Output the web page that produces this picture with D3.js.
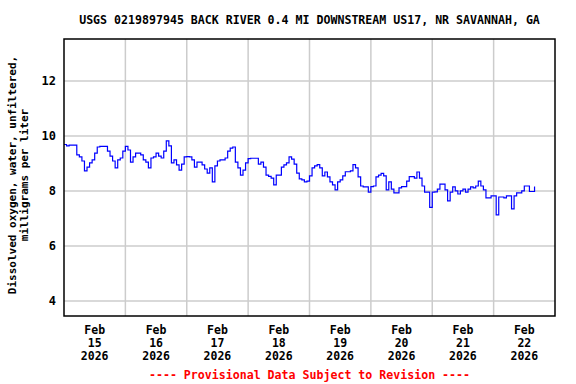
<html>
<head>
<meta charset="utf-8">
<title>USGS 0219897945 dissolved oxygen</title>
<style>
  body { margin: 0; background: #fff; }
  text { font-family: "DejaVu Sans Mono", "Liberation Mono", monospace; font-weight: bold; }
</style>
</head>
<body>
<script src="https://cdn.jsdelivr.net/npm/d3@7"></script>
<script>
// chart text
var titleText = "USGS 0219897945 BACK RIVER 0.4 MI DOWNSTREAM US17, NR SAVANNAH, GA";
var yLabelLines = ["Dissolved oxygen, water, unfiltered,", "milligrams per liter"];
var footerText = "---- Provisional Data Subject to Revision ----";

// axis
var yTicks = [4, 6, 8, 10, 12];
var yDomain = [3.45, 13.53];
var dayLabels = ["15", "16", "17", "18", "19", "20", "21", "22"];
var monthLabel = "Feb";
var yearLabel = "2026";
var startTime = "2026-02-15T00:00:00Z";
var endTime = "2026-02-23T00:00:00Z";

// hourly dissolved oxygen (mg/L), starting Feb 15 00:00
var feb15 = [9.69, 9.64, 9.67, 9.67, 9.67, 9.31, 9.24, 9.09, 8.73, 8.87, 9.02, 9.13,
             9.38, 9.60, 9.62, 9.62, 9.62, 9.45, 9.27, 9.09, 8.84, 9.13, 9.20, 9.45];
var feb16 = [9.62, 9.49, 9.05, 9.24, 9.38, 9.38, 9.31, 9.13, 9.05, 8.84, 9.20, 9.24,
             9.38, 9.27, 9.20, 9.45, 9.82, 9.64, 9.02, 9.13, 8.95, 8.76, 8.98, 9.24];
var feb17 = [9.25, 9.24, 9.13, 8.87, 9.05, 9.05, 8.95, 8.80, 8.65, 8.84, 8.33, 8.91,
             9.09, 9.13, 9.13, 9.20, 9.45, 9.56, 9.60, 9.05, 8.84, 8.58, 8.76, 9.02];
var feb18 = [9.18, 9.19, 9.19, 9.19, 8.98, 9.05, 8.87, 8.58, 8.53, 8.47, 8.22, 8.58,
             8.58, 8.87, 8.95, 9.02, 9.24, 9.16, 8.98, 8.65, 8.44, 8.40, 8.33, 8.36];
var feb19 = [8.55, 8.84, 8.91, 8.96, 8.84, 8.55, 8.69, 8.51, 8.33, 8.22, 8.04, 8.33,
             8.40, 8.55, 8.70, 8.70, 8.73, 8.96, 8.84, 8.51, 8.18, 8.15, 8.15, 7.96];
var feb20 = [8.16, 8.18, 8.51, 8.58, 8.64, 8.55, 8.04, 8.33, 8.07, 7.93, 7.93, 8.11,
             8.16, 8.16, 8.36, 8.52, 8.52, 8.47, 8.69, 8.47, 8.18, 7.96, 7.96, 7.40];
var feb21 = [7.96, 7.97, 8.07, 8.25, 8.25, 8.04, 7.64, 7.96, 8.15, 8.00, 7.89, 8.00,
             8.07, 7.96, 8.07, 8.15, 8.11, 8.18, 8.36, 8.18, 8.04, 7.75, 7.75, 7.82];
var feb22 = [7.82, 7.13, 7.78, 7.78, 7.75, 7.82, 7.82, 7.35, 7.82, 7.93, 7.93, 8.00,
             8.18, 8.18, 7.98, 7.98, 8.16];

var values = [].concat(feb15, feb16, feb17, feb18, feb19, feb20, feb21, feb22);
var t0 = new Date(startTime);
var data = values.map(function(v, i) {
  return { t: d3.utcHour.offset(t0, i), v: v };
});

var width = 576, height = 384;
var plotLeft = 64, plotRight = 555, plotTop = 39, plotBottom = 316;

var svg = d3.select("body").append("svg")
    .attr("width", width)
    .attr("height", height);

var x = d3.scaleUtc()
    .domain([new Date(startTime), new Date(endTime)])
    .range([plotLeft, plotRight]);
var y = d3.scaleLinear()
    .domain(yDomain)
    .range([plotBottom, plotTop]);

// grid
var days = d3.utcDay.range(new Date(startTime), new Date(endTime));
svg.append("g").selectAll("line")
    .data(days.slice(1))
    .enter().append("line")
    .attr("x1", function(d) { return x(d); })
    .attr("x2", function(d) { return x(d); })
    .attr("y1", plotTop).attr("y2", plotBottom)
    .attr("stroke", "#cccccc").attr("stroke-width", 1.5);
svg.append("g").selectAll("line")
    .data(yTicks)
    .enter().append("line")
    .attr("x1", plotLeft).attr("x2", plotRight)
    .attr("y1", function(d) { return y(d); })
    .attr("y2", function(d) { return y(d); })
    .attr("stroke", "#cccccc").attr("stroke-width", 1.5);

// data line, drawn stepwise like the gauge plot
var line = d3.line()
    .curve(d3.curveStepAfter)
    .x(function(d) { return x(d.t); })
    .y(function(d) { return y(d.v); });
svg.append("path")
    .datum(data)
    .attr("d", line)
    .attr("fill", "none")
    .attr("stroke", "#0000ff")
    .attr("stroke-width", 1.2);

// frame
svg.append("rect")
    .attr("x", plotLeft).attr("y", plotTop)
    .attr("width", plotRight - plotLeft).attr("height", plotBottom - plotTop)
    .attr("fill", "none").attr("stroke", "#000").attr("stroke-width", 1.5);

// y tick labels
svg.append("g").selectAll("text")
    .data(yTicks)
    .enter().append("text")
    .attr("x", 56)
    .attr("y", function(d) { return y(d) + 4; })
    .attr("text-anchor", "end")
    .attr("font-size", 12)
    .text(function(d) { return d; });

// x tick labels (centred at midday)
var xl = svg.append("g").selectAll("text")
    .data(days)
    .enter().append("text")
    .attr("text-anchor", "middle")
    .attr("font-size", 11.5)
    .attr("transform", function(d) { return "translate(" + x(d3.utcHour.offset(d, 12)) + ",0)"; });
xl.append("tspan").attr("x", 0).attr("y", 334).text(monthLabel);
xl.append("tspan").attr("x", 0).attr("y", 347).text(function(d, i) { return dayLabels[i]; });
xl.append("tspan").attr("x", 0).attr("y", 360).text(yearLabel);

// title
svg.append("text")
    .attr("x", (plotLeft + plotRight) / 2)
    .attr("y", 24)
    .attr("text-anchor", "middle")
    .attr("font-size", 11.6)
    .text(titleText);

// y axis label
var yl = svg.append("text")
    .attr("transform", "translate(0," + 175 + ") rotate(-90)")
    .attr("text-anchor", "middle")
    .attr("font-size", 11);
yl.append("tspan").attr("x", 0).attr("y", 16).text(yLabelLines[0]);
yl.append("tspan").attr("x", 0).attr("y", 28).text(yLabelLines[1]);

// footer
svg.append("text")
    .attr("x", (plotLeft + plotRight) / 2)
    .attr("y", 379)
    .attr("text-anchor", "middle")
    .attr("font-size", 11.6)
    .attr("fill", "#ff0000")
    .text(footerText);
</script>
</body>
</html>
